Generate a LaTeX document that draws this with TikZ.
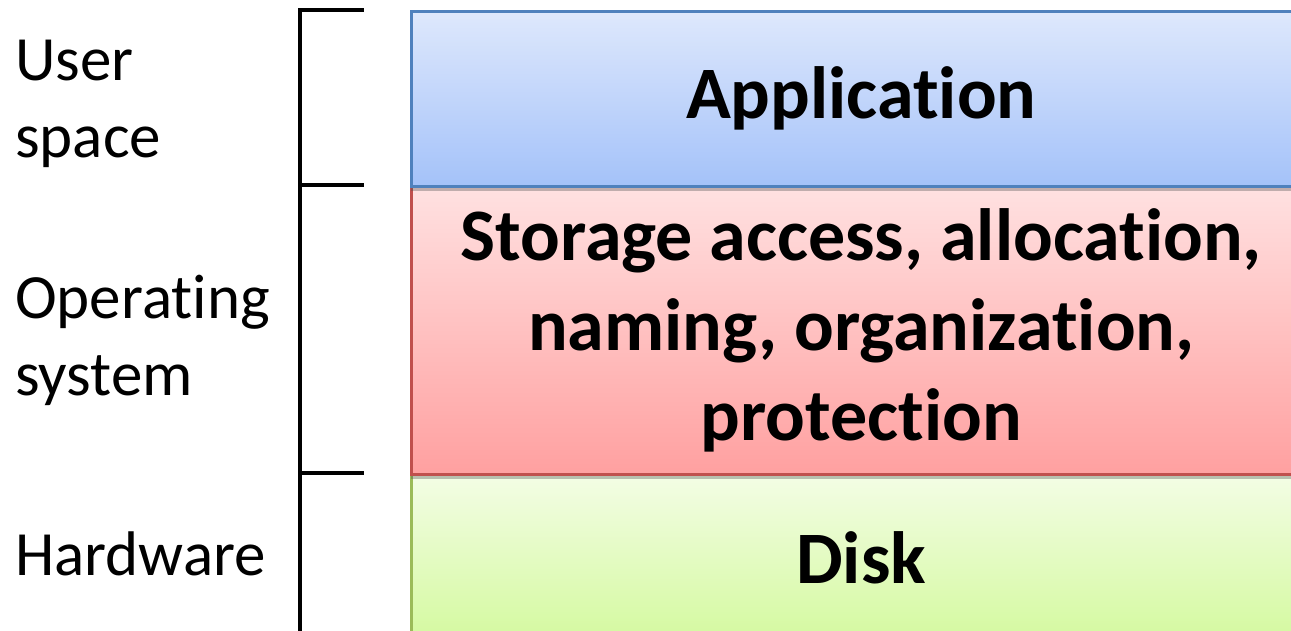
\documentclass[tikz,border=0pt]{standalone}
\usepackage{fontspec}
\setmainfont{Carlito}[RawFeature=-liga]
\usetikzlibrary{shadows}
\definecolor{appTop}{HTML}{DEE8FC}
\definecolor{appBot}{HTML}{A4C2F9}
\definecolor{appLine}{HTML}{4F81BD}
\definecolor{osTop}{HTML}{FFE1E1}
\definecolor{osBot}{HTML}{FFA0A0}
\definecolor{osLine}{HTML}{C0504D}
\definecolor{hwTop}{HTML}{F3FDE5}
\definecolor{hwBot}{HTML}{D4F99F}
\definecolor{hwLine}{HTML}{9BBB59}
\begin{document}
\begin{tikzpicture}[x=1pt,y=-1pt,
  layer/.style={draw, line width=2.5pt, minimum width=900pt, anchor=north west,
    inner sep=0pt, align=center,
    font=\fontsize{74}{90}\selectfont\bfseries,
    drop shadow={shadow xshift=0pt, shadow yshift=-5pt, opacity=0.35, fill=black!70}},
  side/.style={anchor=base west, inner sep=0pt, align=left,
    font=\fontsize{63}{77}\selectfont},
  brk/.style={line width=4pt, line cap=rect}]
\useasboundingbox (0,0) rectangle (1291,630);
\clip (0,0) rectangle (1291,630);
% layers (bottom to top so shadows fall on lower layers)
\node[layer, minimum height=167pt, top color=hwTop, bottom color=hwBot, draw=hwLine] (hw) at (410,473) {Disk};
\node[layer, minimum height=288pt, top color=osTop, bottom color=osBot, draw=osLine] (os) at (410,185) {Storage access, allocation,\\naming, organization,\\protection};
\node[layer, minimum height=175pt, top color=appTop, bottom color=appBot, draw=appLine] (app) at (410,10) {Application};
% bracket
\coordinate (b0) at (300,10);
\coordinate (b1) at (300,185);
\coordinate (b2) at (300,473);
\coordinate (b3) at (300,640);
\coordinate (t0) at (362,10);
\coordinate (t1) at (362,185);
\coordinate (t2) at (362,473);
\draw[brk] (t0) -- (b0) -- (b3);
\draw[brk] (b1) -- (t1);
\draw[brk] (b2) -- (t2);
% side labels
\node[side] (user) at (15,157) {User\\space};
\node[side] (opsys) at (15,395) {Operating\\system};
\node[side] (hard) at (15,575) {Hardware};
\end{tikzpicture}
\end{document}
